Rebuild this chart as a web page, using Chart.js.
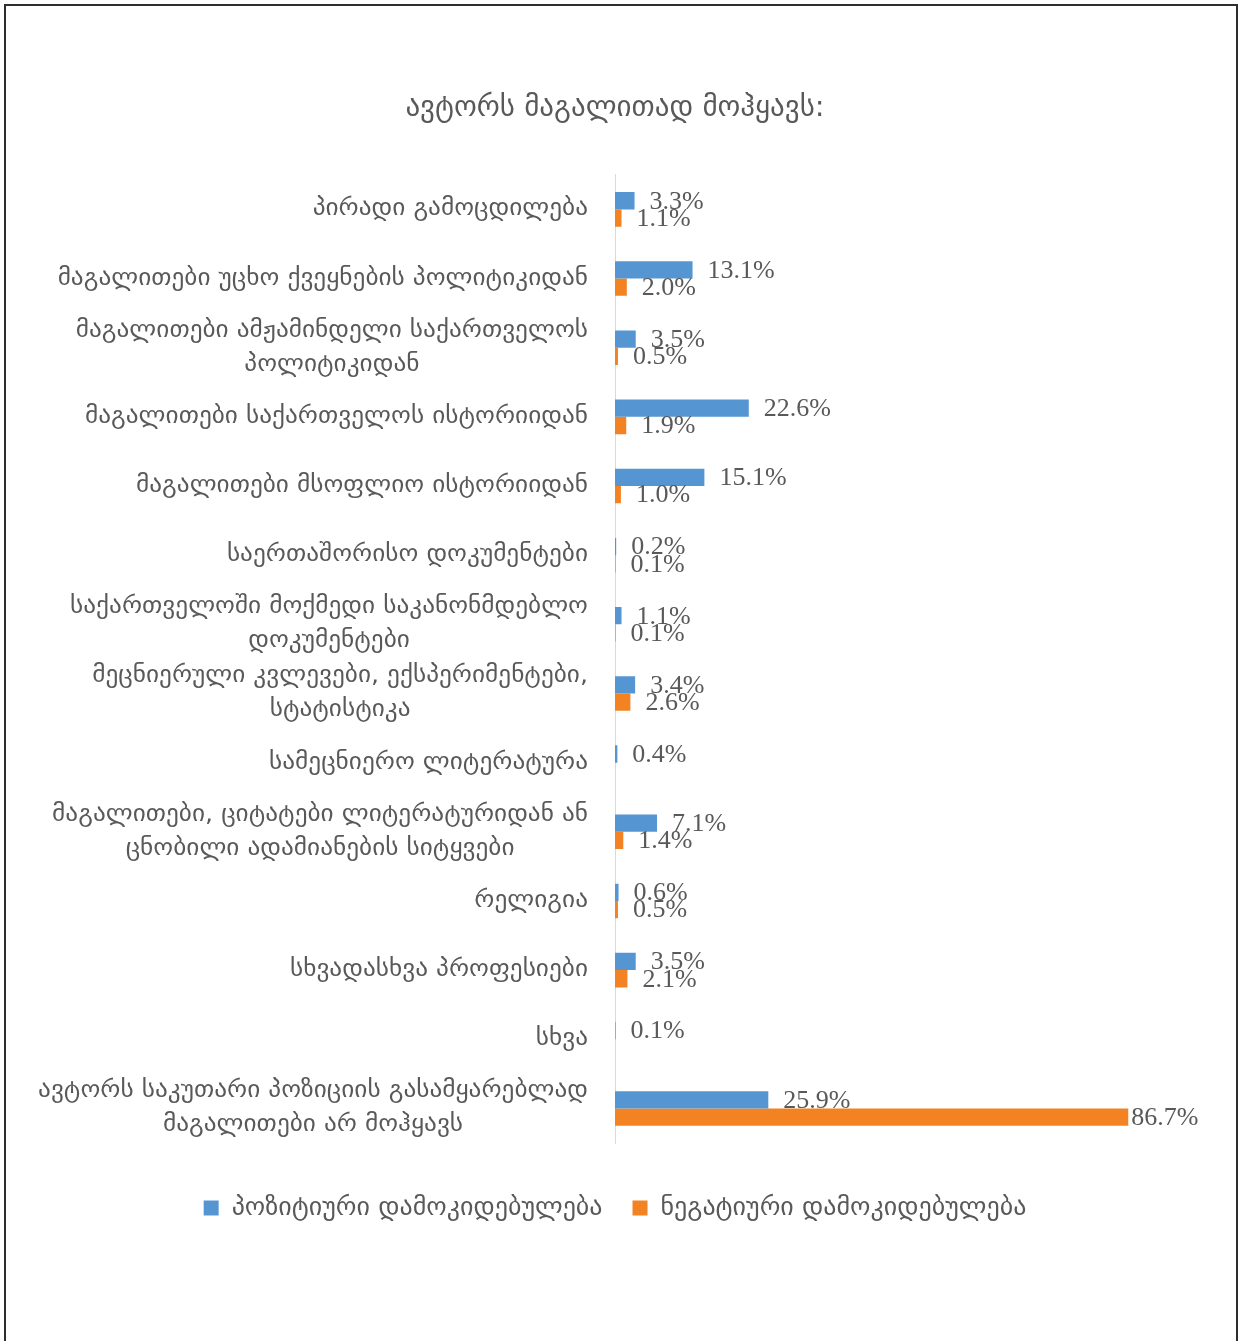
<!DOCTYPE html>
<html>
<head>
<meta charset="utf-8">
<script src="https://cdn.jsdelivr.net/npm/chart.js@4.4.1/dist/chart.umd.min.js"></script>
<style>
  html, body { margin: 0; padding: 0; background: #fff; }
  #frame { position: absolute; left: 4px; top: 4px; width: 1230px; height: 1345px;
           border: 2px solid #2e2e2e; border-bottom: none; }
  #wrap { position: absolute; left: 0; top: 0; width: 1238px; height: 1341px; }
</style>
</head>
<body>
<div id="frame"></div>
<div id="wrap"><canvas id="mainChart" width="1238" height="1341"></canvas></div>
<script>
// კატეგორიები (ზემოდან ქვემოთ)
const categories = [
  "პირადი გამოცდილება",
  "მაგალითები უცხო ქვეყნების პოლიტიკიდან",
  ["მაგალითები ამჟამინდელი საქართველოს", "პოლიტიკიდან"],
  "მაგალითები საქართველოს ისტორიიდან",
  "მაგალითები მსოფლიო ისტორიიდან",
  "საერთაშორისო დოკუმენტები",
  ["საქართველოში მოქმედი საკანონმდებლო", "დოკუმენტები"],
  ["მეცნიერული კვლევები, ექსპერიმენტები,", "სტატისტიკა"],
  "სამეცნიერო ლიტერატურა",
  ["მაგალითები, ციტატები ლიტერატურიდან ან", "ცნობილი ადამიანების სიტყვები"],
  "რელიგია",
  "სხვადასხვა პროფესიები",
  "სხვა",
  ["ავტორს საკუთარი პოზიციის გასამყარებლად", "მაგალითები არ მოჰყავს"]
];

const positiveValues = [3.3, 13.1, 3.5, 22.6, 15.1, 0.2, 1.1, 3.4, 0.4, 7.1, 0.6, 3.5, 0.1, 25.9];
const negativeValues = [1.1, 2.0, 0.5, 1.9, 1.0, 0.1, 0.1, 2.6, null, 1.4, 0.5, 2.1, null, 86.7];

const seriesNames = ["პოზიტიური დამოკიდებულება", "ნეგატიური დამოკიდებულება"];
const chartTitle = "ავტორს მაგალითად მოჰყავს:";

const textColor = '#595959';
const geoFont = "'DejaVu Sans', sans-serif";

// კატეგორიის წარწერები: ბლოკი მარჯვნივ, სტრიქონები ცენტრში
const categoryLabels = {
  id: 'categoryLabels',
  afterDraw(chart) {
    const ctx = chart.ctx;
    const yScale = chart.scales.y;
    const right = chart.chartArea.left - 27;
    const lineH = 34;
    const sx = 1.1;
    ctx.save();
    ctx.font = "23px " + geoFont;
    ctx.fillStyle = textColor;
    ctx.textBaseline = 'middle';
    ctx.textAlign = 'center';
    categories.forEach((lab, i) => {
      const lines = Array.isArray(lab) ? lab : [lab];
      const w = Math.max(...lines.map(l => ctx.measureText(l).width)) * sx;
      const cx = right - w / 2;
      const yc = yScale.getPixelForValue(i);
      lines.forEach((l, k) => {
        ctx.save();
        ctx.translate(cx, yc + (k - (lines.length - 1) / 2) * lineH);
        ctx.scale(sx, 1);
        ctx.fillText(l, 0, 0);
        ctx.restore();
      });
    });
    ctx.restore();
  }
};

// მნიშვნელობები ზოლების ბოლოში
const valueLabels = {
  id: 'valueLabels',
  afterDatasetsDraw(chart) {
    const ctx = chart.ctx;
    ctx.save();
    ctx.font = "26px 'Liberation Serif', serif";
    ctx.fillStyle = textColor;
    ctx.textBaseline = 'middle';
    ctx.textAlign = 'left';
    chart.data.datasets.forEach((ds, di) => {
      const meta = chart.getDatasetMeta(di);
      meta.data.forEach((bar, i) => {
        const v = ds.data[i];
        if (v === null || v === undefined) return;
        const txt = v.toFixed(1) + '%';
        const w = ctx.measureText(txt).width;
        let x = bar.x + 15;
        const maxX = chart.width - 40 - w;
        if (x > maxX) x = Math.max(bar.x + 3, maxX);
        ctx.fillText(txt, x, bar.y + 1);
      });
    });
    ctx.restore();
  }
};

new Chart(document.getElementById('mainChart'), {
  type: 'bar',
  data: {
    labels: categories,
    datasets: [
      { label: seriesNames[0], data: positiveValues, backgroundColor: '#5596D2' },
      { label: seriesNames[1], data: negativeValues, backgroundColor: '#F38322' }
    ]
  },
  options: {
    indexAxis: 'y',
    responsive: false,
    animation: false,
    layout: { padding: { left: 23, right: 31, top: 0, bottom: 110 } },
    datasets: { bar: { categoryPercentage: 0.5, barPercentage: 1.0 } },
    plugins: {
      title: {
        display: true, text: chartTitle, color: textColor,
        font: { family: geoFont, size: 29, weight: 'normal' },
        padding: { top: 91, bottom: 49 }
      },
      legend: {
        position: 'bottom',
        labels: {
          color: textColor, boxWidth: 15, boxHeight: 15, padding: 30,
          font: { family: geoFont, size: 26 }
        }
      },
      tooltip: { enabled: false }
    },
    scales: {
      x: {
        min: 0, max: 100,
        grid: { display: false },
        border: { display: false },
        ticks: { display: false },
        afterFit: s => { s.height = 22; }
      },
      y: {
        grid: { display: false },
        border: { display: true, color: '#D9D9D9', width: 1 },
        ticks: { display: false },
        afterFit: s => { s.width = 592; }
      }
    }
  },
  plugins: [categoryLabels, valueLabels]
});
</script>
</body>
</html>
